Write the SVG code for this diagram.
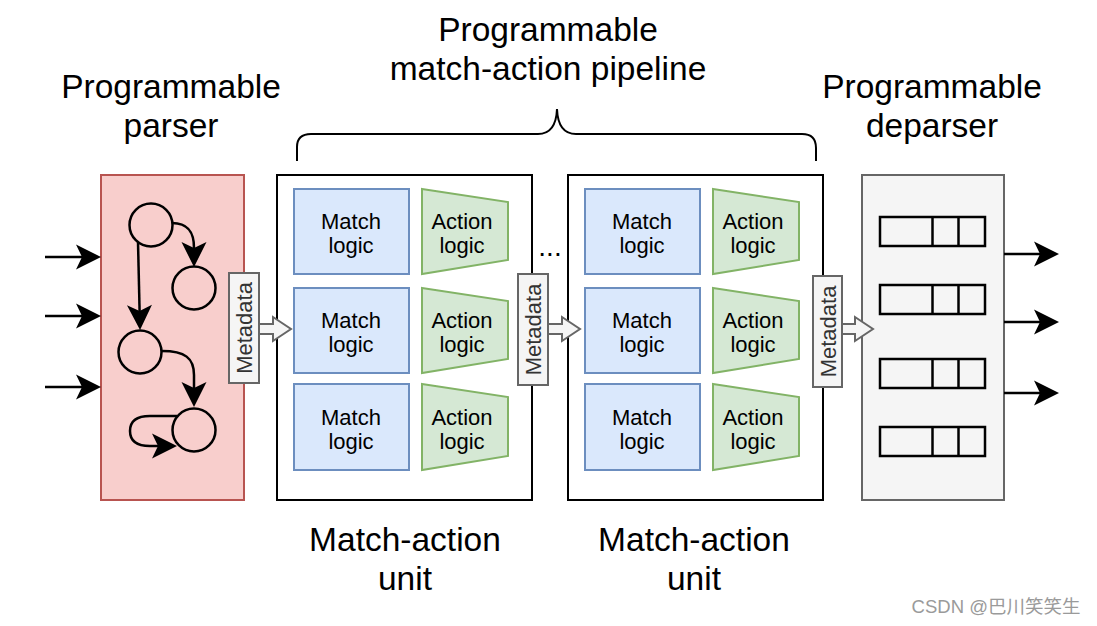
<svg xmlns="http://www.w3.org/2000/svg" width="1097" height="626" viewBox="0 0 1097 626">
<style>
.title{font-family:"Liberation Sans",Arial,sans-serif;font-size:33.5px;fill:#000;text-anchor:middle}
.lbl{font-family:"Liberation Sans",Arial,sans-serif;font-size:22px;fill:#000;text-anchor:middle}
.meta{font-family:"Liberation Sans",Arial,sans-serif;font-size:22px;fill:#333;text-anchor:middle}
.match{fill:#dae8fc;stroke:#6c8ebf;stroke-width:2}
.action{fill:#d5e8d4;stroke:#82b366;stroke-width:2}
.mau{fill:#fff;stroke:#000;stroke-width:2}
.mbox{fill:#f5f5f5;stroke:#666;stroke-width:2}
.harrow{fill:#f5f5f5;stroke:#666;stroke-width:2;stroke-linejoin:miter}
.state{fill:none;stroke:#000;stroke-width:2.5}
.edge{fill:none;stroke:#000;stroke-width:2.5;marker-end:url(#arr)}
.pkt{fill:none;stroke:#000;stroke-width:2.5}
</style>
<defs>
<marker id="arr" markerUnits="userSpaceOnUse" viewBox="-20 -13 27 26" markerWidth="27" markerHeight="26" refX="0" refY="0" orient="auto" overflow="visible">
<path d="M19,0 L-6,-12.5 L0,0 L-6,12.5 Z" fill="#000" stroke="none"/>
</marker>
</defs>

<g id="title-parser"><text class="title" x="171" y="98">Programmable</text><text class="title" x="171" y="137">parser</text></g>
<g id="title-pipeline"><text class="title" x="548" y="41">Programmable</text><text class="title" x="548" y="80">match-action pipeline</text></g>
<g id="title-deparser"><text class="title" x="932" y="98">Programmable</text><text class="title" x="932" y="137">deparser</text></g>
<g id="brace"><path d="M297,161 L297,147 Q297,134 311,134 L538,134 Q556,134 557,109 Q558,134 576,134 L802,134 Q816,134 816,148 L816,161" fill="none" stroke="#000" stroke-width="2"/></g>

<g id="parser">
<rect x="101" y="175" width="143" height="325" fill="#f8cecc" stroke="#b85450" stroke-width="2"/>
<circle class="state" cx="151" cy="225" r="21.5"/>
<circle class="state" cx="194" cy="288" r="21.5"/>
<circle class="state" cx="140" cy="352" r="21.5"/>
<circle class="state" cx="194" cy="430" r="21.5"/>
</g>

<g id="mau1">
<rect class="mau" x="277" y="175" width="255" height="325"/>
<rect class="match" x="294" y="189" width="115" height="85"/>
<rect class="match" x="294" y="288" width="115" height="85"/>
<rect class="match" x="294" y="384" width="115" height="86"/>
<polygon class="action" points="422,189 508,202 508,260 422,274"/>
<polygon class="action" points="422,288 508,301 508,359 422,373"/>
<polygon class="action" points="422,384 508,397 508,456 422,470"/>
<text class="lbl" x="351" y="229">Match</text><text class="lbl" x="351" y="253">logic</text>
<text class="lbl" x="351" y="328">Match</text><text class="lbl" x="351" y="352">logic</text>
<text class="lbl" x="351" y="425">Match</text><text class="lbl" x="351" y="449">logic</text>
<text class="lbl" x="462" y="229">Action</text><text class="lbl" x="462" y="253">logic</text>
<text class="lbl" x="462" y="328">Action</text><text class="lbl" x="462" y="352">logic</text>
<text class="lbl" x="462" y="425">Action</text><text class="lbl" x="462" y="449">logic</text>
</g>

<g id="dots"><text class="lbl" x="550" y="256" style="font-size:28px">...</text></g>

<g id="mau2">
<rect class="mau" x="568" y="175" width="255" height="325"/>
<rect class="match" x="585" y="189" width="115" height="85"/>
<rect class="match" x="585" y="288" width="115" height="85"/>
<rect class="match" x="585" y="384" width="115" height="86"/>
<polygon class="action" points="713,189 799,202 799,260 713,274"/>
<polygon class="action" points="713,288 799,301 799,359 713,373"/>
<polygon class="action" points="713,384 799,397 799,456 713,470"/>
<text class="lbl" x="642" y="229">Match</text><text class="lbl" x="642" y="253">logic</text>
<text class="lbl" x="642" y="328">Match</text><text class="lbl" x="642" y="352">logic</text>
<text class="lbl" x="642" y="425">Match</text><text class="lbl" x="642" y="449">logic</text>
<text class="lbl" x="753" y="229">Action</text><text class="lbl" x="753" y="253">logic</text>
<text class="lbl" x="753" y="328">Action</text><text class="lbl" x="753" y="352">logic</text>
<text class="lbl" x="753" y="425">Action</text><text class="lbl" x="753" y="449">logic</text>
</g>

<g id="deparser">
<rect x="862" y="175" width="142" height="325" fill="#f5f5f5" stroke="#666" stroke-width="2"/>
<rect class="pkt" x="880" y="217" width="105" height="29"/><line class="pkt" x1="932.5" y1="217" x2="932.5" y2="246"/><line class="pkt" x1="958.5" y1="217" x2="958.5" y2="246"/>
<rect class="pkt" x="880" y="285" width="105" height="29"/><line class="pkt" x1="932.5" y1="285" x2="932.5" y2="314"/><line class="pkt" x1="958.5" y1="285" x2="958.5" y2="314"/>
<rect class="pkt" x="880" y="359" width="105" height="29"/><line class="pkt" x1="932.5" y1="359" x2="932.5" y2="388"/><line class="pkt" x1="958.5" y1="359" x2="958.5" y2="388"/>
<rect class="pkt" x="880" y="427" width="105" height="29"/><line class="pkt" x1="932.5" y1="427" x2="932.5" y2="456"/><line class="pkt" x1="958.5" y1="427" x2="958.5" y2="456"/>
</g>

<g id="metadata1"><rect class="mbox" x="229" y="273" width="30" height="110"/><text class="meta" transform="translate(244,328) rotate(-90)" x="0" y="8">Metadata</text></g>
<g id="metadata2"><rect class="mbox" x="518" y="274" width="30" height="111"/><text class="meta" transform="translate(533,329.5) rotate(-90)" x="0" y="8">Metadata</text></g>
<g id="metadata3"><rect class="mbox" x="813" y="276" width="29" height="111"/><text class="meta" transform="translate(827.5,331.5) rotate(-90)" x="0" y="8">Metadata</text></g>

<g id="labels-mau">
<text class="title" x="405" y="551">Match-action</text><text class="title" x="405" y="590">unit</text>
<text class="title" x="694" y="551">Match-action</text><text class="title" x="694" y="590">unit</text>
</g>

<g id="connectors">
<path class="edge" d="M45,257 L82,257"/>
<path class="edge" d="M45,316 L82,316"/>
<path class="edge" d="M45,387 L82,387"/>
<path class="edge" d="M1004,254 L1040,254"/>
<path class="edge" d="M1004,322 L1040,322"/>
<path class="edge" d="M1004,393 L1040,393"/>
<path class="edge" d="M172,223 C188,223 194,232 194,248"/>
<path class="edge" d="M138,242 L139.6,311"/>
<path class="edge" d="M162,351 C185,351 194,358 194,375 L194,388"/>
<path class="edge" d="M177,416 L150,416 Q130,416 130,431 Q130,446 150,446 L158,446"/>
<path class="harrow" d="M259,324 L273,324 L273,317 L291,329 L273,341 L273,334 L259,334 Z"/>
<path class="harrow" d="M548,324 L562,324 L562,317 L580,329 L562,341 L562,334 L548,334 Z"/>
<path class="harrow" d="M842,324 L855,324 L855,317 L873,329 L855,341 L855,334 L842,334 Z"/>
</g>

<g id="watermark"><text x="996" y="613" font-family="'Liberation Sans','Noto Sans CJK SC',sans-serif" font-size="18.5" fill="#9a9a9a" text-anchor="middle">CSDN @巴川笑笑生</text></g>
</svg>
